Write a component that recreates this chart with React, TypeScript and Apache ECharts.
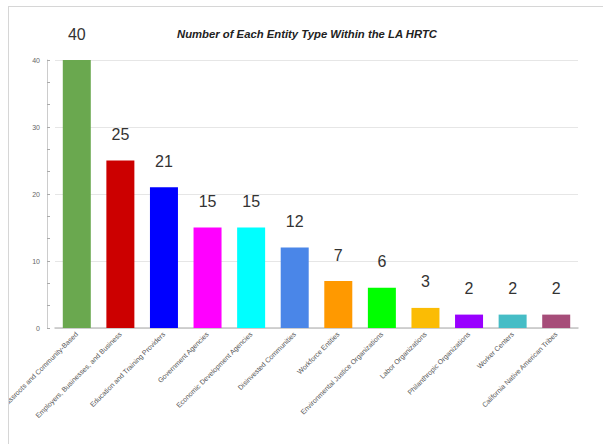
import React, { useEffect, useRef } from "react";
import * as echarts from "echarts";

const categories = [
  "Grassroots and Community-Based",
  "Employers, Businesses, and Business",
  "Education and Training Providers",
  "Government Agencies",
  "Economic Development Agencies",
  "Disinvested Communities",
  "Workforce Entities",
  "Environmental Justice Organizations",
  "Labor Organizations",
  "Philanthropic Organizations",
  "Worker Centers",
  "California Native American Tribes",
];

const counts = [40, 25, 21, 15, 15, 12, 7, 6, 3, 2, 2, 2];

const barColors = [
  "#6aa84f",
  "#cc0000",
  "#0000ff",
  "#ff00ff",
  "#00ffff",
  "#4a86e8",
  "#ff9900",
  "#00ff00",
  "#fbbc04",
  "#9900ff",
  "#46bdc6",
  "#a64d79",
];

const yTicks = [0, 10, 20, 30, 40];

const FONT = "'Liberation Sans', Arial, sans-serif";

export default function App() {
  const ref = useRef<HTMLDivElement>(null);

  useEffect(() => {
    if (!ref.current) return;
    const chart = echarts.init(ref.current, null, { renderer: "svg" });
    chart.setOption({
      animation: false,
      backgroundColor: "#ffffff",
      title: {
        text: "Number of Each Entity Type Within the LA HRTC",
        left: 168,
        top: 21,
        padding: 0,
        textStyle: {
          fontFamily: FONT,
          fontSize: 11.3,
          fontWeight: "bold",
          fontStyle: "italic",
          color: "#222222",
        },
      },
      grid: {
        left: 46,
        right: 25,
        top: 53,
        bottom: 116,
        containLabel: false,
        outerBoundsMode: "none",
      },
      xAxis: {
        type: "category",
        data: categories,
        axisLine: { show: true, lineStyle: { color: "#c4c4c4", width: 1.5 } },
        axisTick: { show: false },
        axisLabel: {
          rotate: 45,
          interval: 0,
          margin: 5,
          fontFamily: FONT,
          fontSize: 7,
          color: "#555555",
        },
      },
      yAxis: {
        type: "value",
        min: yTicks[0],
        max: yTicks[yTicks.length - 1],
        interval: 10,
        offset: 8,
        axisLine: { show: true, lineStyle: { color: "#cccccc", width: 1 } },
        axisTick: { show: true, inside: true, length: 3, lineStyle: { color: "#aaaaaa" } },
        minorTick: { show: true, splitNumber: 3, length: 3, lineStyle: { color: "#aaaaaa" } },
        axisLabel: {
          margin: 7,
          fontFamily: FONT,
          fontSize: 7,
          color: "#666666",
        },
        splitLine: { show: true, lineStyle: { color: "#e6e6e6", width: 1 } },
      },
      series: [
        {
          type: "bar",
          barWidth: 28,
          data: counts.map((v, i) => ({
            value: v,
            itemStyle: { color: barColors[i] },
          })),
          label: {
            show: true,
            position: "top",
            distance: 18,
            fontFamily: FONT,
            fontSize: 16,
            color: "#333333",
          },
        },
      ],
    });
    return () => chart.dispose();
  }, []);

  return (
    <div
      style={{
        position: "fixed",
        left: 8,
        top: 6,
        width: 595,
        height: 438,
        overflow: "hidden",
        borderLeft: "1px solid #d6d6d6",
        borderTop: "1px solid #d6d6d6",
        background: "#ffffff",
      }}
    >
      <div ref={ref} style={{ width: 594, height: 437 }} />
    </div>
  );
}
